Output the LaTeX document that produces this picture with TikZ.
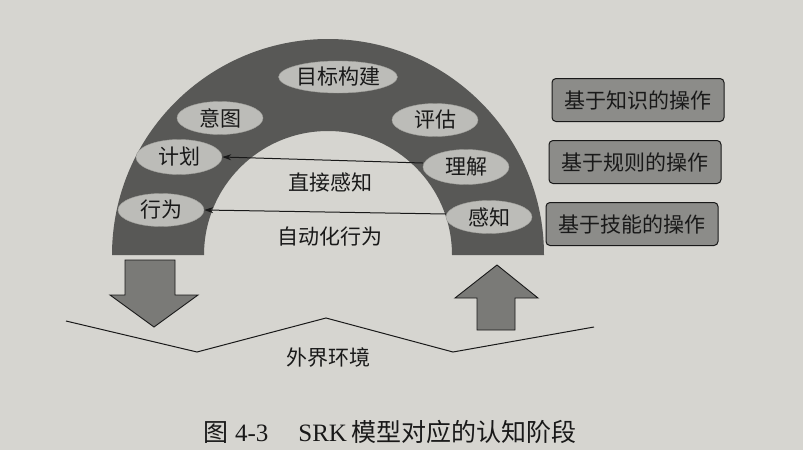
\documentclass[tikz,border=0pt]{standalone}
\usepackage{fontspec}
\setmainfont{Liberation Serif}
\newfontfamily\cjk{Noto Sans CJK SC}
\usetikzlibrary{shapes.geometric,arrows.meta}
\definecolor{paper}{RGB}{214,213,208}
\definecolor{archgray}{RGB}{88,88,86}
\definecolor{ellgray}{RGB}{188,188,184}
\definecolor{boxgray}{RGB}{140,140,137}
\definecolor{bigarrow}{RGB}{122,122,119}
\definecolor{ink}{RGB}{25,25,25}
\tikzset{
  stage/.style={ellipse, fill=ellgray, draw=ellgray!85!black, line width=0.4pt,
    minimum width=86pt, minimum height=33pt, inner sep=0pt,
    font=\cjk\fontsize{21}{25}\selectfont, text=ink},
  opbox/.style={rectangle, rounded corners=4pt, fill=boxgray, draw=ink, line width=1pt,
    minimum width=172pt, minimum height=43pt, inner sep=0pt,
    font=\cjk\fontsize{21}{25}\selectfont, text=ink},
  label/.style={font=\cjk\fontsize{21}{25}\selectfont, text=ink, inner sep=0pt},
  flow/.style={draw=ink, line width=1pt, -{Stealth[length=9pt,width=6pt]}},
  bigarr/.style={fill=bigarrow, draw=ink, line width=0.9pt, line join=miter},
}
\begin{document}
\begin{tikzpicture}[x=1pt,y=-1pt]
\fill[paper] (0,0) rectangle (803,450);
\useasboundingbox (0,0) rectangle (803,450);
% arch
\fill[archgray] (112,255) arc[start angle=180, end angle=360, radius=216]
  -- (452,255) arc[start angle=0, end angle=-180, radius=124] -- cycle;
% stages
\node[stage, minimum width=110pt, minimum height=32pt] (goal) at (338,77) {目标构建};
\node[stage] (intent) at (220,118) {意图};
\node[stage] (eval) at (435,120) {评估};
\node[stage, minimum height=35pt] (plan) at (179,157) {计划};
\node[stage, minimum height=35pt] (under) at (466,167) {理解};
\node[stage] (act) at (161,210) {行为};
\node[stage] (perc) at (489,217) {感知};
% connectors
\draw[flow] ([yshift=4pt]under.west) -- (plan.east);
\draw[flow] ([yshift=3pt]perc.west) -- (act.east);
\node[label] (direct) at (330,183) {直接感知};
\node[label] (auto) at (330,237) {自动化行为};
% big arrows
\draw[bigarr] (125,260) -- (175,260) -- (175,295) -- (198,295) -- (154,327)
  -- (110,295) -- (125,295) -- cycle;
\draw[bigarr] (477,330) -- (515,330) -- (515,298) -- (538,298) -- (497,265)
  -- (455,298) -- (477,298) -- cycle;
% environment line
\coordinate (z1) at (66,321);
\coordinate (z2) at (197,352);
\coordinate (z3) at (326,318);
\coordinate (z4) at (453,352);
\coordinate (z5) at (594,327);
\draw[ink, line width=1pt] (z1) -- (z2) -- (z3) -- (z4) -- (z5);
\node[label] (env) at (328,358) {外界环境};
% operation boxes
\node[opbox] (kb) at (638,100) {基于知识的操作};
\node[opbox] (rb) at (635,162) {基于规则的操作};
\node[opbox] (sb) at (632,224) {基于技能的操作};
% caption
\node[inner sep=0pt, text=ink, font=\fontsize{25}{29}\selectfont] (cap) at (390,432)
  {{\cjk 图}\ 4-3\hspace{1.2em}SRK\,{\cjk 模型对应的认知阶段}};
\end{tikzpicture}
\end{document}
